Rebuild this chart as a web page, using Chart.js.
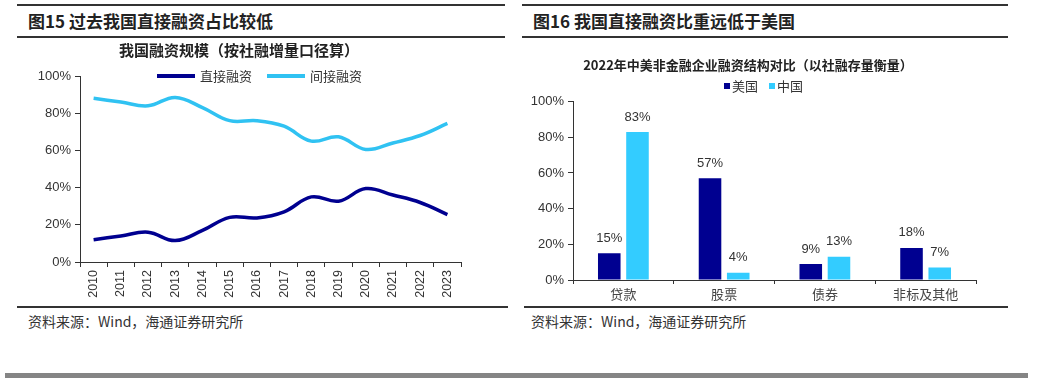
<!DOCTYPE html>
<html>
<head>
<meta charset="utf-8">
<script src="https://cdn.jsdelivr.net/npm/chart.js@4.4.1/dist/chart.umd.min.js"></script>
<style>
  body { margin: 0; width: 1038px; height: 380px; background: #fff; position: relative; overflow: hidden;
         font-family: "Noto Sans CJK SC", "Liberation Sans", sans-serif; color: #222; }
  .rule { position: absolute; background: #333; }
  .title { position: absolute; font-size: 17px; font-weight: 700; line-height: 20px; white-space: nowrap; }
  .src { position: absolute; font-size: 14px; line-height: 18px; color: #333; white-space: nowrap; }
  canvas { position: absolute; }
</style>
</head>
<body>
<div class="rule" style="left:17px; top:4px; width:488px; height:2px"></div>
<div class="title" style="left:28px; top:11px">图15 过去我国直接融资占比较低</div>
<div class="rule" style="left:17px; top:36px; width:488px; height:2px"></div>
<div class="rule" style="left:17px; top:306px; width:491px; height:2px"></div>
<div class="src" style="left:28px; top:312px">资料来源：Wind，海通证券研究所</div>

<div class="rule" style="left:522px; top:4px; width:486px; height:2px"></div>
<div class="title" style="left:533px; top:11px">图16 我国直接融资比重远低于美国</div>
<div class="rule" style="left:522px; top:36px; width:486px; height:2px"></div>
<div class="rule" style="left:524px; top:306px; width:484px; height:2px"></div>
<div class="src" style="left:531px; top:312px">资料来源：Wind，海通证券研究所</div>

<div style="position:absolute; left:5px; top:373px; width:1023px; height:5px; background:#858585"></div>

<div style="position:absolute; left:17px; top:40px; width:491px; height:265px"><canvas id="lineChart"></canvas></div>
<div style="position:absolute; left:520px; top:40px; width:490px; height:265px"><canvas id="barChart"></canvas></div>

<script>
// 图15 数据
const years = ["2010","2011","2012","2013","2014","2015","2016","2017","2018","2019","2020","2021","2022","2023"];
const zhijie = [12, 14, 16, 11.5, 17, 24, 23.7, 27, 35, 32.7, 39.5, 36, 32, 25.5];
const jianjie = [88, 86, 84, 88.5, 83, 76, 76, 73, 65, 67.3, 60.5, 64, 68, 74.5];

// 图16 数据
const leibie = ["贷款", "股票", "债券", "非标及其他"];
const meiguo = [15, 57, 9, 18];
const zhongguo = [83, 4, 13, 7];

const yTicks = [0, 20, 40, 60, 80, 100];

const NAVY = "#000090";
const CYAN_LINE = "#30C2F2";
const CYAN_BAR = "#33CCFF";
const numFont = { family: "'Liberation Sans', Arial, sans-serif", size: 13 };
const cnFont = "'Noto Sans CJK SC', sans-serif";

// 图例（自己画，位置好控制）
const miniLegend = {
  id: "miniLegend",
  afterDraw(chart, args, opts) {
    const ctx = chart.ctx;
    let x = chart.chartArea.left + opts.x;
    const y = opts.y;
    ctx.save();
    ctx.font = opts.font;
    ctx.textBaseline = "middle";
    chart.data.datasets.forEach(ds => {
      ctx.fillStyle = ds.legendColor;
      if (opts.kind === "line") {
        ctx.fillRect(x, y - 2, 38, 4);
        x += 43;
      } else {
        ctx.fillRect(x, y - 3, 6, 6);
        x += 8;
      }
      ctx.fillStyle = "#333";
      ctx.fillText(ds.label, x, y);
      x += ctx.measureText(ds.label).width + opts.gap;
    });
    ctx.restore();
  }
};

const barLabels = {
  id: "barLabels",
  afterDatasetsDraw(chart) {
    const ctx = chart.ctx;
    ctx.save();
    ctx.font = "13px 'Liberation Sans', Arial, sans-serif";
    ctx.fillStyle = "#333";
    ctx.textAlign = "center";
    ctx.textBaseline = "middle";
    chart.data.datasets.forEach((ds, i) => {
      chart.getDatasetMeta(i).data.forEach((bar, j) => {
        ctx.fillText(ds.data[j] + "%", bar.x, bar.y - 15);
      });
    });
    ctx.restore();
  }
};

function yAxis(width) {
  return {
    min: 0, max: 100,
    afterFit: s => { s.width = width; },
    afterBuildTicks: s => { s.ticks = yTicks.map(v => ({ value: v })); },
    border: { display: true, color: "#333", width: 1 },
    grid: { display: true, drawOnChartArea: false, tickLength: 5, color: "#333" },
    ticks: { color: "#333", font: numFont, padding: 4, callback: v => v + "%" }
  };
}

new Chart(document.getElementById("lineChart"), {
  type: "line",
  data: {
    labels: years,
    datasets: [
      { label: "直接融资", data: zhijie, borderColor: NAVY, legendColor: NAVY, borderWidth: 3.5,
        tension: 0.4, pointRadius: 0, fill: false },
      { label: "间接融资", data: jianjie, borderColor: CYAN_LINE, legendColor: CYAN_LINE, borderWidth: 3.5,
        tension: 0.4, pointRadius: 0, fill: false }
    ]
  },
  options: {
    responsive: true, maintainAspectRatio: false, animation: false,
    layout: { padding: { left: 0, right: 47, top: 0, bottom: 0 } },
    plugins: {
      legend: { display: false },
      tooltip: { enabled: false },
      title: { display: true, text: "我国融资规模（按社融增量口径算）", color: "#222",
               font: { family: cnFont, size: 15, weight: "bold" }, padding: { top: 1, bottom: 17 } },
      miniLegend: { kind: "line", x: 77, y: 36, gap: 15, font: "13px 'Noto Sans CJK SC', sans-serif" }
    },
    scales: {
      x: {
        offset: true,
        afterFit: s => { s.height = 43; },
        border: { display: true, color: "#333", width: 1 },
        grid: { display: true, offset: true, drawOnChartArea: false, tickLength: 5, color: "#333" },
        ticks: { color: "#333", font: { family: numFont.family, size: 12.5 }, maxRotation: 90, minRotation: 90, padding: 3 }
      },
      y: yAxis(63)
    }
  },
  plugins: [miniLegend]
});

new Chart(document.getElementById("barChart"), {
  type: "bar",
  data: {
    labels: leibie,
    datasets: [
      { label: "美国", data: meiguo, backgroundColor: NAVY, legendColor: NAVY },
      { label: "中国", data: zhongguo, backgroundColor: CYAN_BAR, legendColor: CYAN_BAR }
    ]
  },
  options: {
    responsive: true, maintainAspectRatio: false, animation: false,
    layout: { padding: { left: 0, right: 34, top: 0, bottom: 0 } },
    datasets: { bar: { categoryPercentage: 0.56, barPercentage: 0.8 } },
    plugins: {
      legend: { display: false },
      tooltip: { enabled: false },
      title: { display: true, text: "2022年中美非金融企业融资结构对比（以社融存量衡量）", color: "#222",
               font: { family: cnFont, size: 13, weight: "bold" }, padding: { top: 17, bottom: 29 } },
      miniLegend: { kind: "box", x: 151, y: 46, gap: 11, font: "13px 'Noto Sans CJK SC', sans-serif" }
    },
    scales: {
      x: {
        afterFit: s => { s.height = 25; },
        border: { display: true, color: "#333", width: 1 },
        grid: { display: true, offset: true, drawOnChartArea: false, tickLength: 4, color: "#333" },
        ticks: { color: "#444", font: { family: cnFont, size: 13 }, padding: 2 }
      },
      y: yAxis(53)
    }
  },
  plugins: [miniLegend, barLabels]
});
</script>
</body>
</html>
